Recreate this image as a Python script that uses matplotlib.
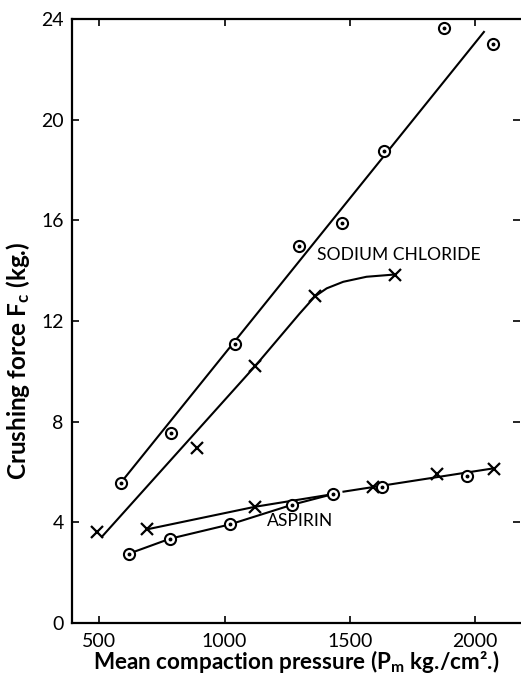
import matplotlib
matplotlib.use('Agg')
import matplotlib.pyplot as plt

matplotlib.rcParams['font.family'] = ['Lato', 'DejaVu Sans']
matplotlib.rcParams['mathtext.default'] = 'regular'

# sodium chloride, circles (upper series) and fitted straight line
nacl_circ_x = [585, 786, 1042, 1299, 1468, 1638, 1877, 2072]
nacl_circ_y = [5.57, 7.55, 11.1, 15.0, 15.9, 18.75, 23.65, 23.0]
nacl_fit_x = [585, 2036]
nacl_fit_y = [5.57, 23.49]

# sodium chloride, crosses and drawn curve
nacl_x_x = [490, 889, 1122, 1361, 1680]
nacl_x_y = [3.6, 6.95, 10.21, 12.98, 13.83]
nacl_curve_x = [510, 1122, 1300, 1361, 1408, 1474, 1567, 1680]
nacl_curve_y = [3.43, 10.21, 12.3, 12.98, 13.3, 13.56, 13.76, 13.85]

# aspirin
asp_circ_x = [619, 782, 1022, 1270, 1432, 1630, 1969]
asp_circ_y = [2.76, 3.35, 3.92, 4.7, 5.12, 5.4, 5.85]
asp_x_x = [689, 1122, 1594, 1847, 2077]
asp_x_y = [3.72, 4.62, 5.42, 5.92, 6.12]
asp_circ_line_x = [619, 782, 1022, 1270, 1432]
asp_circ_line_y = [2.76, 3.35, 3.92, 4.7, 5.12]
asp_x_line_x = [689, 1122, 1432]
asp_x_line_y = [3.72, 4.62, 5.12]
asp_fit_x = [1475, 2077]
asp_fit_y = [5.22, 6.15]

xticks = [500, 1000, 1500, 2000]
yticks = [0, 4, 8, 12, 16, 20, 24]

fig = plt.figure(figsize=(5.21, 6.82), dpi=100)
ax = fig.add_axes([0.138, 0.0865, 0.86, 0.8855])

lw = 1.5
ax.plot(nacl_fit_x, nacl_fit_y, color='black', lw=lw)
ax.plot(nacl_curve_x, nacl_curve_y, color='black', lw=lw)
ax.plot(asp_circ_line_x, asp_circ_line_y, color='black', lw=lw)
ax.plot(asp_x_line_x, asp_x_line_y, color='black', lw=lw)
ax.plot(asp_fit_x, asp_fit_y, color='black', lw=lw)

for cx, cy in [(nacl_circ_x, nacl_circ_y), (asp_circ_x, asp_circ_y)]:
    ax.plot(cx, cy, 'o', ms=8, mfc='white', mec='black', mew=1.5, zorder=3)
    ax.plot(cx, cy, 'o', ms=1.8, color='black', zorder=4)
for xx, xy in [(nacl_x_x, nacl_x_y), (asp_x_x, asp_x_y)]:
    ax.plot(xx, xy, 'x', ms=9, mec='black', mew=1.6, zorder=3)

ax.text(1368, 14.62, 'SODIUM CHLORIDE', fontsize=12.6, va='center', ha='left')
ax.text(1168, 4.06, 'ASPIRIN', fontsize=12.6, va='center', ha='left')

ax.set_xlim(390, 2180)
ax.set_ylim(0, 24)
ax.set_xticks(xticks)
ax.set_yticks(yticks)
ax.tick_params(axis='both', labelsize=14, direction='in', width=1.2, length=5,
               top=True, right=True, pad=6)
ax.tick_params(axis='x', pad=7)
ax.spines['right'].set_visible(False)
for s in ['left', 'bottom', 'top']:
    ax.spines[s].set_linewidth(1.6)

ax.set_xlabel(r'Mean compaction pressure (P$_{m}$ kg./cm².)', fontsize=16.2,
              fontweight='bold', labelpad=-1)
ax.set_ylabel(r'Crushing force F$_{c}$ (kg.)', fontsize=17.5, fontweight='bold')
ax.yaxis.set_label_coords(-0.089, 0.435)

fig.savefig('out.png', dpi=100)
